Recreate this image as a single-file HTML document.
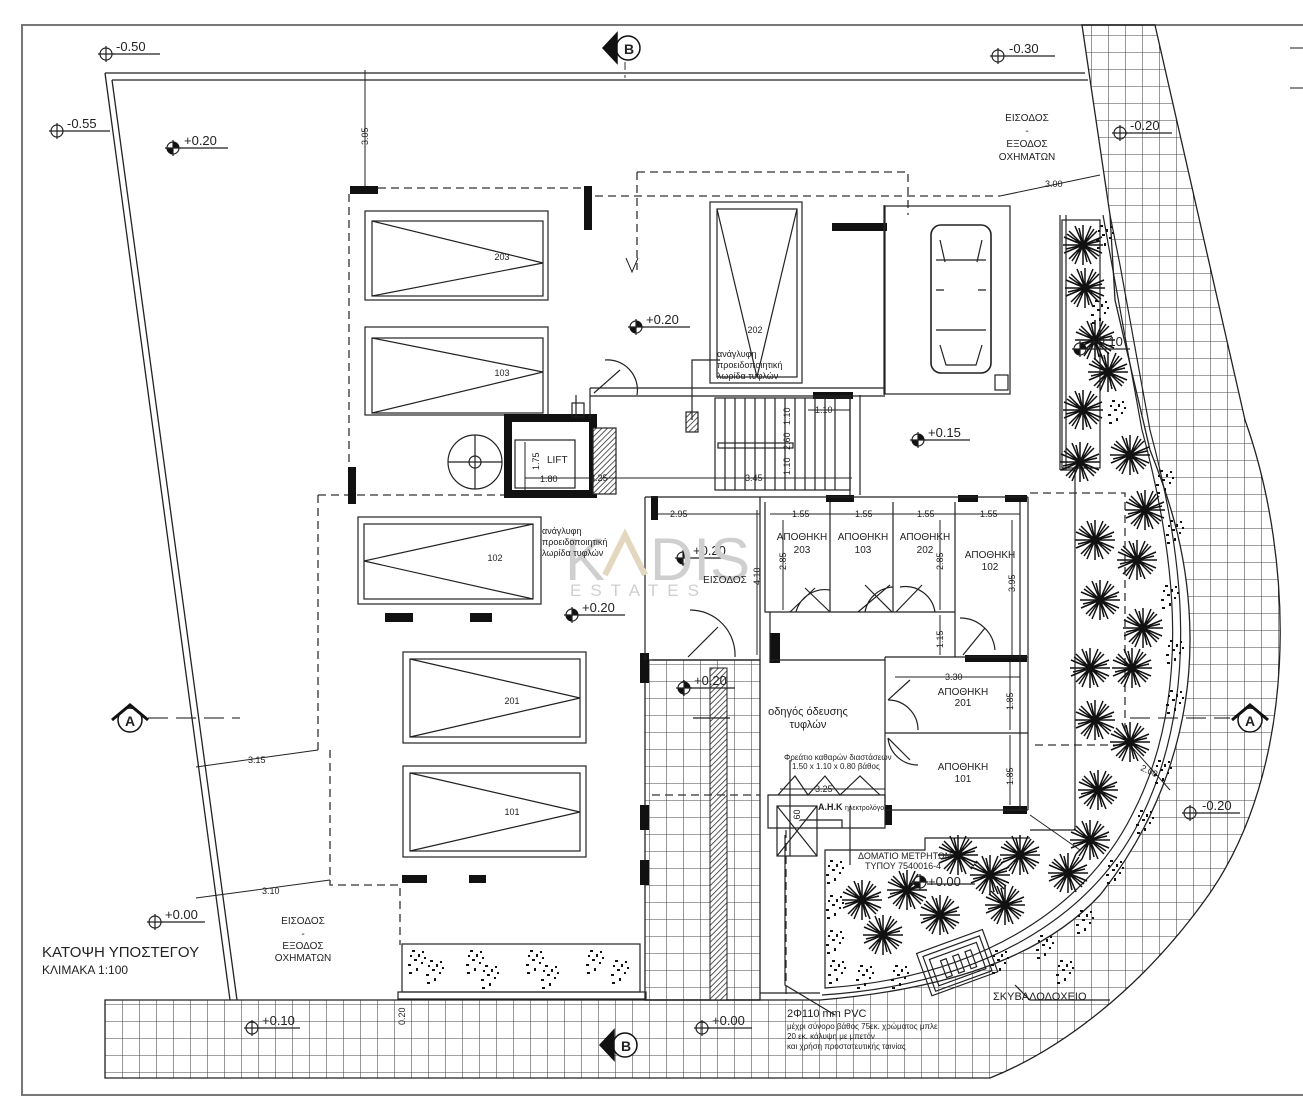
<!DOCTYPE html>
<html><head><meta charset="utf-8"><style>
html,body{margin:0;padding:0;background:#fff}
svg{display:block}
text{font-family:"Liberation Sans",sans-serif;fill:#222}
</style></head><body>
<svg width="1303" height="1109" viewBox="0 0 1303 1109" xmlns="http://www.w3.org/2000/svg">
<defs>
<pattern id="grid" x="3" y="1" width="17" height="17" patternUnits="userSpaceOnUse">
<path d="M0 0H17M0 0V17" stroke="#444" stroke-width="1.1" fill="none"/>
</pattern>
<pattern id="hatch" width="4" height="4" patternUnits="userSpaceOnUse" patternTransform="rotate(45)">
<rect width="4" height="4" fill="#fff"/><line x1="0" y1="0" x2="0" y2="4" stroke="#222" stroke-width="1.5"/>
</pattern>
<g id="tree" stroke="#111" stroke-width="1.5" fill="none">
<path d="M-20 0H20M0-20V20M-14-14L14 14M-14 14L14-14M-19-8L19 8M-19 8L19-8M-8-19L8 19M8-19L-8 19M-16-11L16 11M-11 16L11-16M-17 4L17-4M4 17L-4-17"/>
<circle r="4" fill="#111"/>
</g>
<g id="bush" fill="#111">
<rect x="0" y="0" width="3" height="2"/><rect x="6" y="4" width="2" height="3"/><rect x="2" y="9" width="3" height="2"/><rect x="9" y="12" width="2" height="2"/><rect x="-4" y="14" width="3" height="2"/><rect x="4" y="18" width="2" height="3"/><rect x="-2" y="5" width="2" height="2"/><rect x="10" y="1" width="2" height="2"/><rect x="12" y="7" width="2" height="2"/><rect x="-3" y="22" width="3" height="2"/>
</g>
<g id="elev"><circle r="6" fill="none" stroke="#222" stroke-width="1.2"/><path d="M-8 0H8M0-8V8" stroke="#222" stroke-width="1.2"/></g>
<g id="elevf"><circle r="6" fill="#fff" stroke="#222" stroke-width="1.2"/><path d="M0-6A6 6 0 0 1 6 0H0Z M0 6A6 6 0 0 1 -6 0H0Z" fill="#111"/><path d="M-8 0H8M0-8V8" stroke="#222" stroke-width="1.2"/></g>
</defs>

<path d="M1303 25H22V1095H1303" fill="none" stroke="#777" stroke-width="2"/>
<path d="M1290 48H1303M1290 88H1303" stroke="#666" stroke-width="1.5"/>

<path d="M1082 25L1155 25L1245 420C1295 560 1300 770 1205 900C1140 990 1060 1050 990 1078L105 1078L105 1000L820 1000C940 990 1040 960 1100 895C1160 820 1190 730 1190 640C1190 560 1170 500 1150 450L1115 300L1110 215Z" fill="url(#grid)" stroke="#222" stroke-width="1.3"/>
<rect x="645" y="660" width="115" height="340" fill="url(#grid)" stroke="#222" stroke-width="1.3"/>
<rect x="710" y="668" width="17" height="332" fill="url(#hatch)" stroke="#222"/>
<path d="M1110 215L1120 265L1150 430C1185 560 1200 700 1140 820C1090 920 980 985 822 995" fill="none" stroke="#222" stroke-width="1.2"/>
<path d="M1103 215L1112 265L1142 430C1177 560 1192 700 1132 815C1083 912 975 978 825 988L825 850L925 850L925 838L1030 838" fill="none" stroke="#222" stroke-width="1.2"/>

<path d="M105 73H1085M112 80H1088" stroke="#222" stroke-width="1.3"/>
<path d="M105 73L230 1000M112 80L237 1000" stroke="#222" stroke-width="1.3"/>
<path d="M237 1000H400" stroke="#222"/>

<g stroke="#333" stroke-width="1.3" fill="none" stroke-dasharray="8 5">
<path d="M378 188H585M595 196H1000M637 172H908V215M637 172V270"/>
<path d="M349 194V495M318 495H505M318 495V750M330 750V885H400V945"/>
<path d="M1030 493H1125V745H1030"/>
<path d="M786 830V1000"/>
<path d="M652 795H760"/>
</g>
<path d="M626 258L632 272L638 258" fill="none" stroke="#222"/>
<path d="M625 62V78" stroke="#333" stroke-dasharray="8 5"/>

<g fill="#111">
<rect x="350" y="186" width="28" height="8"/>
<rect x="584" y="186" width="8" height="44"/>
<rect x="832" y="223" width="55" height="8"/>
<rect x="348" y="467" width="8" height="37"/>
<rect x="385" y="613" width="28" height="9"/>
<rect x="470" y="613" width="22" height="9"/>
<rect x="402" y="875" width="25" height="8"/>
<rect x="469" y="875" width="17" height="8"/>
<rect x="640" y="653" width="9" height="30"/>
<rect x="640" y="805" width="9" height="25"/>
<rect x="640" y="860" width="9" height="25"/>
<rect x="770" y="633" width="10" height="30"/>
<rect x="826" y="495" width="28" height="7"/>
<rect x="958" y="495" width="20" height="7"/>
<rect x="1005" y="495" width="22" height="7"/>
<rect x="965" y="655" width="62" height="7"/>
<rect x="1003" y="806" width="24" height="8"/>
<rect x="885" y="805" width="7" height="20"/>
<rect x="651" y="496" width="7" height="24"/>
<rect x="813" y="392" width="40" height="7"/>
</g>

<g fill="none" stroke="#222" stroke-width="1.2">
<rect x="365" y="211" width="183" height="89"/><rect x="372" y="221" width="171" height="75"/><path d="M372 221L543 263L372 296"/>
<rect x="365" y="327" width="183" height="88"/><rect x="372" y="338" width="171" height="75"/><path d="M372 338L543 372L372 413"/>
<rect x="358" y="517" width="183" height="87"/><rect x="364" y="524" width="169" height="75"/><path d="M533 524L364 561L533 599"/>
<rect x="403" y="652" width="183" height="91"/><rect x="410" y="659" width="170" height="78"/><path d="M410 659L580 698L410 737"/>
<rect x="403" y="766" width="183" height="91"/><rect x="410" y="773" width="170" height="78"/><path d="M410 773L580 812L410 851"/>
<rect x="710" y="202" width="92" height="181"/><rect x="717" y="209" width="80" height="168"/><path d="M717 209L757 377L797 209"/>
<rect x="885" y="206" width="125" height="188"/>
<rect x="931" y="225" width="60" height="148" rx="10" stroke-width="1.6"/>
<path d="M936 260H986M936 330H986M940 240L945 262M982 240L977 262M936 290H944M978 290H986M940 345L946 365H976L982 345"/>
<rect x="995" y="375" width="13" height="15"/>
<rect x="508" y="418" width="85" height="76" stroke-width="8" stroke="#111"/>
<rect x="515" y="440" width="60" height="48"/>
<rect x="593" y="428" width="23" height="66" fill="url(#hatch)"/>
<circle cx="475" cy="462" r="27"/><circle cx="475" cy="462" r="6"/>
<path d="M448 462H502M475 435V489"/>
<rect x="572" y="403" width="12" height="14"/>
<path d="M590 388H885M590 396H885M576 395V418M590 388V418M884 395V205"/>
<path d="M594 393L620 370" /><path d="M605 360A30 30 0 0 1 637 395"/>
<rect x="715" y="398" width="135" height="92"/>
<path d="M725 398V490M735 398V490M745 398V490M755 398V490M765 398V490M775 398V490M785 398V490M795 398V490M805 398V490M815 398V490M825 398V490M835 398V490"/>
<rect x="718" y="443" width="75" height="5"/>
<path d="M850 395V495M860 395V495M1060 215V470M1066 215V470M1060 470H1075V830H1030"/>
<rect x="1062" y="220" width="38" height="248"/>
<rect x="686" y="412" width="12" height="20" fill="url(#hatch)"/>
<path d="M692 420V360H720"/>
<path d="M645 497H1028M645 497V660M652 660H760M760 497V660M765 502V612H955M955 612V657M1020 502V810M1028 497V810M885 657H1028M885 657V810H1028M885 733H1028"/>
<path d="M830 502V612M893 502V612M955 502V612"/>
<path d="M770 612V663M770 660H885"/>
<path d="M688 657L718 627M690 610A45 45 0 0 1 735 657"/>
<path d="M790 612L815 588M830 612L805 588M796 612A30 30 0 0 1 830 590"/>
<path d="M858 612L890 585M892 612L865 585M865 612A30 30 0 0 1 893 587"/>
<path d="M896 612L922 585M900 587A30 30 0 0 1 935 612"/>
<path d="M963 655L985 628M960 618A35 35 0 0 1 995 650"/>
<path d="M888 700L910 680M888 700A30 30 0 0 1 918 730"/>
<path d="M888 738L910 760M888 738A30 30 0 0 0 918 765"/>
<path d="M768 795H885V828H768Z"/>
<rect x="777" y="806" width="40" height="50"/>
<path d="M777 806L817 856M817 806L777 856"/>
<path d="M778 795L795 776L808 795L825 776L840 795L860 776L880 795"/>
<path d="M800 820H842V828"/>
<path d="M760 1000H645"/>
<rect x="402" y="944" width="238" height="48"/>
<rect x="398" y="992" width="248" height="7"/>
<path d="M760 993H820"/>
<g transform="translate(958,965) rotate(-20)"><rect x="-35" y="-25" width="70" height="45"/><rect x="-30" y="-20" width="60" height="37"/><rect x="-25" y="-15" width="50" height="28"/><rect x="-15" y="-10" width="6" height="18"/><rect x="-2" y="-10" width="6" height="18"/><rect x="11" y="-10" width="6" height="18"/></g>
<path d="M785 835V985L835 1015M1015 985L1030 1000H1110M693 718L730 718M790 856V760M850 865V806"/>
</g>

<g stroke="#222" stroke-width="1" fill="none">
<path d="M365 70V186M1000 196L1100 175M196 767L318 750M196 898L330 880M600 478H852M525 478H590M525 442V490"/>
<path d="M658 514H760M770 514H1020M783 520V610M940 520V610M1012 520V655M757 510V655M940 615V655M895 677H1020M1010 662V730M1010 735V805M780 789H885M808 410H850M785 405V490M805 410V490"/>
<path d="M1130 745L1170 790M1030 815L1080 850"/>
</g>

<g>
<use href="#tree" x="1083" y="245"/><use href="#tree" x="1085" y="288"/><use href="#tree" x="1095" y="340"/><use href="#tree" x="1108" y="372"/><use href="#tree" x="1083" y="410"/><use href="#tree" x="1130" y="455"/><use href="#tree" x="1080" y="462"/>
<use href="#tree" x="1145" y="510"/><use href="#tree" x="1095" y="540"/><use href="#tree" x="1137" y="560"/><use href="#tree" x="1100" y="600"/><use href="#tree" x="1143" y="628"/><use href="#tree" x="1090" y="668"/><use href="#tree" x="1132" y="668"/><use href="#tree" x="1095" y="720"/><use href="#tree" x="1130" y="742"/><use href="#tree" x="1098" y="790"/><use href="#tree" x="1090" y="840"/>
<use href="#tree" x="1020" y="855"/><use href="#tree" x="1068" y="873"/><use href="#tree" x="990" y="875"/><use href="#tree" x="958" y="855"/><use href="#tree" x="907" y="890"/><use href="#tree" x="862" y="900"/><use href="#tree" x="940" y="915"/><use href="#tree" x="883" y="935"/><use href="#tree" x="1005" y="905"/>
</g>
<g>
<use href="#bush" x="1100" y="225"/><use href="#bush" x="1095" y="300"/><use href="#bush" x="1112" y="400"/><use href="#bush" x="1160" y="470"/><use href="#bush" x="1170" y="520"/><use href="#bush" x="1165" y="585"/><use href="#bush" x="1170" y="640"/><use href="#bush" x="1170" y="690"/><use href="#bush" x="1158" y="760"/><use href="#bush" x="1140" y="810"/><use href="#bush" x="1110" y="860"/><use href="#bush" x="1080" y="910"/><use href="#bush" x="1040" y="935"/><use href="#bush" x="995" y="950"/>
<use href="#bush" x="830" y="860"/><use href="#bush" x="830" y="895"/><use href="#bush" x="830" y="930"/><use href="#bush" x="832" y="960"/><use href="#bush" x="860" y="965"/><use href="#bush" x="895" y="965"/><use href="#bush" x="1060" y="960"/>
<use href="#bush" x="412" y="950"/><use href="#bush" x="430" y="960"/><use href="#bush" x="470" y="950"/><use href="#bush" x="485" y="965"/><use href="#bush" x="530" y="950"/><use href="#bush" x="545" y="965"/><use href="#bush" x="590" y="950"/><use href="#bush" x="615" y="960"/>
</g>

<g stroke="#111" stroke-width="1.5">
<circle cx="628" cy="48" r="12" fill="#fff"/><path d="M617 33L603 48L617 63Z" fill="#111"/>
<circle cx="625" cy="1045" r="12" fill="#fff"/><path d="M614 1030L600 1045L614 1060Z" fill="#111"/>
<circle cx="130" cy="720" r="12" fill="#fff"/><path d="M112 720L130 705L148 720" fill="none" stroke-width="3"/>
<circle cx="1250" cy="720" r="12" fill="#fff"/><path d="M1232 720L1250 705L1268 720" fill="none" stroke-width="3"/>
<path d="M148 718H240M1130 718H1230" stroke-dasharray="20 8" stroke-width="1"/>
</g>
<g font-size="14" font-weight="bold" text-anchor="middle">
<text x="629" y="54">B</text><text x="626" y="1051">B</text><text x="130" y="726">A</text><text x="1250" y="726">A</text>
</g>

<g stroke="#222" stroke-width="1.2">
<path d="M112 54H160M65 131H110M180 148H228M1005 56H1055M1127 133H1172M643 327H690M924 440H970M1087 349H1130M579 615H625M690 688H735M1197 813H1240M162 922H205M258 1028H300M708 1028H752M690 558H730M927 884H975"/>
</g>
<use href="#elev" x="106" y="54"/><use href="#elev" x="57" y="131"/><use href="#elevf" x="173" y="148"/><use href="#elev" x="998" y="56"/><use href="#elev" x="1120" y="133"/><use href="#elevf" x="636" y="327"/><use href="#elevf" x="918" y="440"/><use href="#elevf" x="1080" y="349"/><use href="#elevf" x="572" y="615"/><use href="#elevf" x="684" y="688"/><use href="#elev" x="1190" y="813"/><use href="#elev" x="155" y="922"/><use href="#elev" x="252" y="1028"/><use href="#elev" x="702" y="1028"/><use href="#elevf" x="683" y="558"/><use href="#elevf" x="920" y="882"/>
<g font-size="13">
<text x="116" y="51">-0.50</text><text x="67" y="128">-0.55</text><text x="184" y="145">+0.20</text><text x="1009" y="53">-0.30</text><text x="1130" y="130">-0.20</text><text x="646" y="324">+0.20</text><text x="928" y="437">+0.15</text><text x="1090" y="346">+0.10</text><text x="582" y="612">+0.20</text><text x="694" y="685">+0.20</text><text x="1202" y="810">-0.20</text><text x="165" y="919">+0.00</text><text x="262" y="1025">+0.10</text><text x="712" y="1025">+0.00</text><text x="693" y="555">+0.20</text><text x="928" y="886">+0.00</text>
</g>

<text x="565" y="580" font-size="60" style="fill:#cfcfcf" letter-spacing="2">K</text>
<text x="650" y="580" font-size="60" style="fill:#cfcfcf">DIS</text>
<path d="M605 575L625 535L645 575" stroke="#e3d7bf" stroke-width="6" fill="none"/>
<text x="570" y="596" font-size="17" style="fill:#cfcfcf" letter-spacing="9">ESTATES</text>

<g font-size="10" text-anchor="middle">
<text x="1027" y="121">ΕΙΣΟΔΟΣ</text><text x="1027" y="134">-</text><text x="1027" y="147">ΕΞΟΔΟΣ</text><text x="1027" y="160">ΟΧΗΜΑΤΩΝ</text>
<text x="303" y="924">ΕΙΣΟΔΟΣ</text><text x="303" y="937">-</text><text x="303" y="949">ΕΞΟΔΟΣ</text><text x="303" y="961">ΟΧΗΜΑΤΩΝ</text>
<text x="802" y="540">ΑΠΟΘΗΚΗ</text><text x="802" y="553">203</text>
<text x="863" y="540">ΑΠΟΘΗΚΗ</text><text x="863" y="553">103</text>
<text x="925" y="540">ΑΠΟΘΗΚΗ</text><text x="925" y="553">202</text>
<text x="990" y="558">ΑΠΟΘΗΚΗ</text><text x="990" y="570">102</text>
<text x="963" y="695">ΑΠΟΘΗΚΗ</text><text x="963" y="706">201</text>
<text x="963" y="770">ΑΠΟΘΗΚΗ</text><text x="963" y="782">101</text>
<text x="725" y="583">ΕΙΣΟΔΟΣ</text>
<text x="808" y="715" font-size="11">οδηγός όδευσης</text><text x="808" y="728" font-size="11">τυφλών</text>
<text x="502" y="260" font-size="9">203</text><text x="502" y="376" font-size="9">103</text><text x="495" y="561" font-size="9">102</text><text x="512" y="704" font-size="9">201</text><text x="512" y="815" font-size="9">101</text><text x="755" y="333" font-size="9">202</text>
</g>
<g font-size="9">
<text x="717" y="357">ανάγλυφη</text><text x="717" y="368">προειδοποιητική</text><text x="717" y="379">λωρίδα τυφλών</text>
<text x="542" y="534">ανάγλυφη</text><text x="542" y="545">προειδοποιητική</text><text x="542" y="556">λωρίδα τυφλών</text>
<text x="547" y="463" font-size="10">LIFT</text>
<text x="540" y="482">1.80</text><text x="590" y="481">3.25</text><text x="745" y="481">3.45</text><text x="815" y="413">1.10</text>
<text x="1045" y="187">3.00</text><text x="248" y="763">3.15</text><text x="262" y="894">3.10</text>
<text x="670" y="517">2.95</text><text x="792" y="517">1.55</text><text x="855" y="517">1.55</text><text x="917" y="517">1.55</text><text x="980" y="517">1.55</text>
<text x="945" y="680">3.30</text><text x="815" y="792">3.25</text>
<text x="784" y="760" font-size="8">Φρεάτιο καθαρών διαστάσεων</text><text x="792" y="769" font-size="8">1.50 x 1.10 x 0.80 βάθος</text>
<text x="818" y="810" font-weight="bold">Α.Η.Κ</text><text x="845" y="810" font-size="7">ηλεκτρολόγος</text>
<text x="858" y="859">ΔΟΜΑΤΙΟ ΜΕΤΡΗΤΩΝ</text><text x="865" y="869">ΤΥΠΟΥ 7540016-4</text>
<text x="993" y="1000" font-size="11">ΣΚΥΒΑΛΟΔΟΧΕΙΟ</text>
<text x="787" y="1017" font-size="11">2Φ110 mm PVC</text>
<text x="787" y="1029" font-size="8">μέχρι σύνορο βάθος 75εκ. χρώματος μπλε</text>
<text x="787" y="1039" font-size="8">20 εκ. κάλυψη με μπετόν</text>
<text x="787" y="1049" font-size="8">και χρήση προστατευτικής ταινίας</text>
</g>
<g font-size="9">
<text transform="translate(368,145) rotate(-90)">3.05</text>
<text transform="translate(539,470) rotate(-90)">1.75</text>
<text transform="translate(790,450) rotate(-90)">2.60</text>
<text transform="translate(790,425) rotate(-90)">1.10</text>
<text transform="translate(790,475) rotate(-90)">1.10</text>
<text transform="translate(760,585) rotate(-90)">4.10</text>
<text transform="translate(786,570) rotate(-90)">2.85</text>
<text transform="translate(943,570) rotate(-90)">2.85</text>
<text transform="translate(1015,592) rotate(-90)">3.95</text>
<text transform="translate(943,648) rotate(-90)">1.15</text>
<text transform="translate(1013,710) rotate(-90)">1.85</text>
<text transform="translate(1013,785) rotate(-90)">1.85</text>
<text transform="translate(405,1025) rotate(-90)">0.20</text>
<text transform="translate(800,822) rotate(-90)">.60</text>
<text transform="translate(1140,770) rotate(25)">2.00</text>
</g>
<text x="42" y="957" font-size="15">ΚΑΤΟΨΗ ΥΠΟΣΤΕΓΟΥ</text>
<text x="42" y="974" font-size="12">ΚΛΙΜΑΚΑ  1:100</text>
</svg>
</body></html>
